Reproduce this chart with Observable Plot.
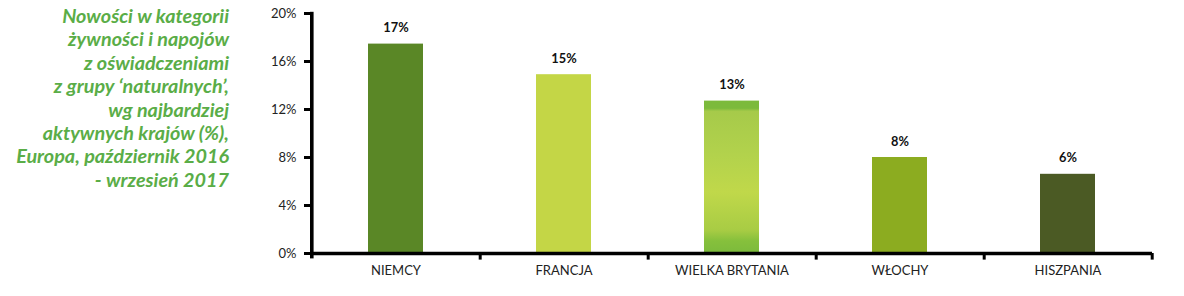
<!DOCTYPE html>
<html>
<head>
<meta charset="utf-8">
<script src="https://cdn.jsdelivr.net/npm/d3@7"></script>
<script src="https://cdn.jsdelivr.net/npm/@observablehq/plot@0.6"></script>
<style>
  html, body { margin: 0; padding: 0; background: #fff; }
  #wrap { position: relative; width: 1184px; height: 296px; font-family: Lato, sans-serif; }
  #title {
    position: absolute; left: 0; top: 4px; width: 229px; z-index: 2;
    text-align: right; color: #5aad47; font-weight: bold; font-style: italic;
    font-size: 19.8px; line-height: 23.4px; font-family: Lato, sans-serif;
  }
  #chart { position: absolute; left: 0; top: 0; z-index: 1; }
</style>
</head>
<body>
<svg width="0" height="0" style="position:absolute">
  <defs>
    <linearGradient id="gWB" x1="0" y1="0" x2="0" y2="1">
      <stop offset="0" stop-color="#7cba3c"/><stop offset="0.05" stop-color="#7cba3c"/>
      <stop offset="0.07" stop-color="#a6ca4a"/><stop offset="0.35" stop-color="#b2d24c"/>
      <stop offset="0.6" stop-color="#c0d84a"/><stop offset="0.85" stop-color="#a8cc44"/>
      <stop offset="0.92" stop-color="#86c03c"/><stop offset="1" stop-color="#7cba3c"/>
    </linearGradient>
  </defs>
</svg>
<div id="wrap">
  <div id="title">Nowości w kategorii<br>żywności i napojów<br>z oświadczeniami<br>z grupy ‘naturalnych’,<br>wg najbardziej<br>aktywnych krajów (%),<br>Europa, październik 2016<br>- wrzesień 2017</div>
  <div id="chart"></div>
</div>
<script>
const countries = ["NIEMCY", "FRANCJA", "WIELKA BRYTANIA", "WŁOCHY", "HISZPANIA"];
const values = [17.45, 14.9, 12.7, 8.0, 6.6];
const valueLabels = ["17%", "15%", "13%", "8%", "6%"];
const barColors = ["#5a8726", "#c4d646", "url(#gWB)", "#8cac20", "#4b5a24"];
const yTicks = [0, 4, 8, 12, 16, 20];

const data = countries.map((c, i) => ({country: c, value: values[i], label: valueLabels[i]}));

const W = 1184, H = 296;
const mL = 310, mR = 32, mT = 13, mB = 43;
const step = (W - mL - mR) / countries.length;

const chart = Plot.plot({
  width: W,
  height: H,
  marginLeft: mL,
  marginRight: mR,
  marginTop: mT,
  marginBottom: mB,
  style: {fontFamily: "Lato, sans-serif", fontSize: "13px", color: "#1a1a1a", background: "transparent"},
  x: {domain: countries, paddingInner: 0.674, paddingOuter: 0.337, label: null, axis: null},
  y: {domain: [0, 20], label: null, axis: null},
  color: {type: "ordinal", domain: countries, range: barColors},
  marks: [
    Plot.barY(data, {x: "country", y: "value", fill: "country"}),
    Plot.text(data, {x: "country", y: "value", text: "label", dy: -16, fontWeight: "bold", fontSize: 12.8, fill: "#111"}),
    Plot.axisY(yTicks, {tickFormat: d => d + "%", tickSize: 6, tickPadding: 8, strokeWidth: 3, stroke: "#000", fill: "#222", fontSize: 13, label: null}),
    Plot.axisX(countries, {tickSize: 0, tickPadding: 12, fill: "#222", fontSize: 13, label: null}),
    Plot.ruleY([0], {stroke: "#000", strokeWidth: 3.6}),
    Plot.ruleX(countries.slice(0, 1), {x: d => d, dx: -step / 2, y1: -0.45, y2: 20.1, stroke: "#000", strokeWidth: 3.6}),
    Plot.ruleX(countries, {x: d => d, dx: step / 2, y1: 0, y2: -0.55, stroke: "#000", strokeWidth: 3})
  ]
});

document.getElementById("chart").appendChild(chart);
</script>
</body>
</html>
